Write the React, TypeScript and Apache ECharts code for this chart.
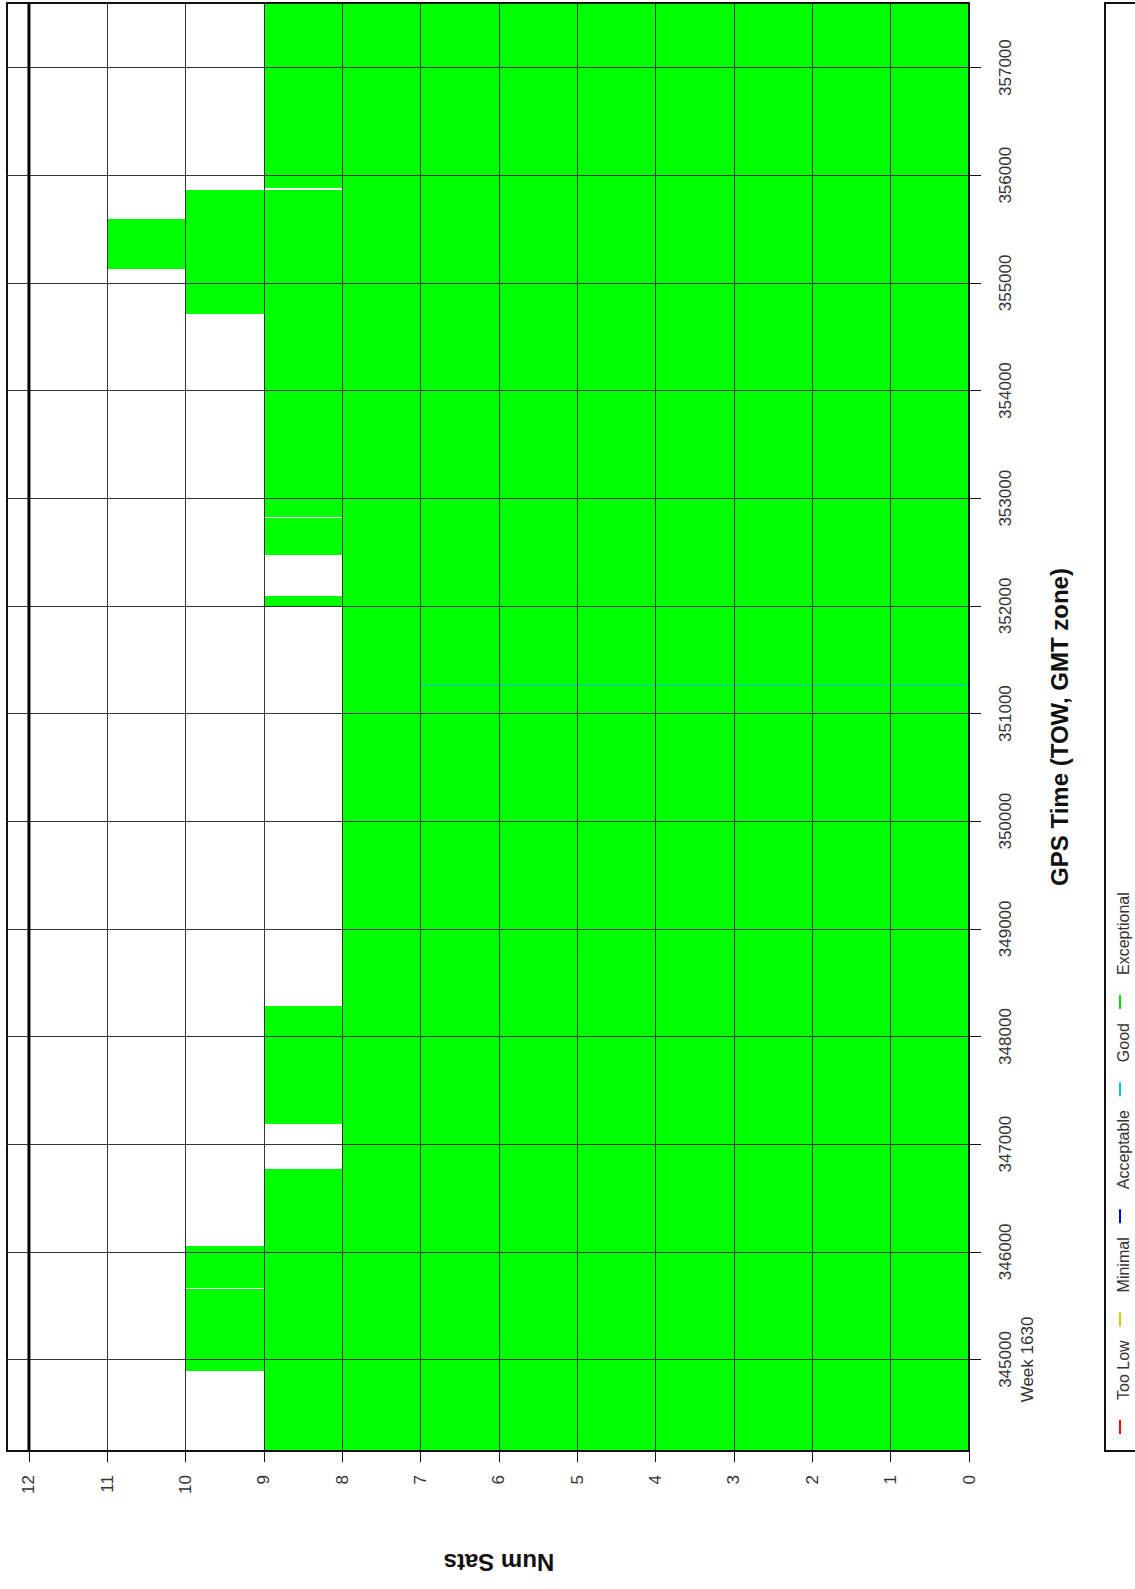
import React, { useEffect, useRef } from 'react';
import * as echarts from 'echarts';

// ---- data ----
const towTicks = [345000, 346000, 347000, 348000, 349000, 350000, 351000, 352000, 353000, 354000, 355000, 356000, 357000];
const weekStartTow = 345000;
const weekLabel = 'Week 1630';
const satTicks = [0, 1, 2, 3, 4, 5, 6, 7, 8, 9, 10, 11, 12];

// step boundaries (GPS TOW, s) and satellite count held in each interval
const stepTow = [344150, 344891, 345653, 345663, 346053, 346769, 347187, 348284, 351992, 352094, 352475, 352819, 352829, 354715, 355133, 355598, 355867, 355877, 357600];
const satCount = [9, 10, 9, 10, 9, 8, 9, 8, 9, 8, 9, 8, 9, 10, 11, 10, 8, 9];

// brief "Good" trace
const goodTow = [351267];
const goodSats = [7];

const maxSatsLine = 12;
const towMin = 344150;
const towMax = 357600;
const satMax = 12.28;

const legendNames = ['Too Low', 'Minimal', 'Acceptable', 'Good', 'Exceptional'];
const legendColors = ['#ff0000', '#e0c000', '#0000ff', '#00c8e8', '#00e000'];

const FONT = '"Liberation Sans", Arial, sans-serif';

function buildLegend() {
  const canvas = document.createElement('canvas');
  const ctx = canvas.getContext('2d');
  const fs = 16;
  if (ctx) ctx.font = `${fs}px "Liberation Sans", Arial, sans-serif`;
  const children: any[] = [];
  children.push({
    type: 'rect',
    shape: { x: 1105, y: 3, width: 60, height: 1448 },
    style: { fill: 'none', stroke: '#111', lineWidth: 2 },
  });
  let cursor = 1434;
  const xMark = 1120;
  const xText = 1123;
  legendNames.forEach((name, i) => {
    children.push({
      type: 'line',
      shape: { x1: xMark, y1: cursor, x2: xMark, y2: cursor - 14 },
      style: { stroke: legendColors[i], lineWidth: 2 },
    });
    cursor -= 14 + 20;
    const w = ctx ? ctx.measureText(name).width : name.length * 8;
    children.push({
      type: 'text',
      x: xText,
      y: cursor,
      rotation: Math.PI / 2,
      style: {
        text: name,
        font: `${fs}px ${FONT}`,
        fill: '#333',
        align: 'left',
        verticalAlign: 'middle',
      },
    });
    cursor -= w + 14;
  });
  return children;
}

export default function App() {
  const ref = useRef<HTMLDivElement>(null);

  useEffect(() => {
    if (!ref.current) return;
    const chart = echarts.init(ref.current, undefined, { renderer: 'svg' });

    const stepData = satCount.map((n, i) => [n, stepTow[i], stepTow[i + 1]]);

    const option: any = {
      animation: false,
      backgroundColor: '#ffffff',
      grid: {
        left: 7,
        right: 166,
        top: 3,
        bottom: 138,
        show: true,
        borderColor: '#111',
        borderWidth: 2,
        backgroundColor: 'transparent',
        z: 5,
      },
      xAxis: {
        type: 'value',
        inverse: true,
        min: 0,
        max: satMax,
        position: 'bottom',
        z: 5,
        axisLine: { show: true, lineStyle: { color: '#111', width: 2 } },
        axisTick: { show: true, length: 11, customValues: satTicks, lineStyle: { color: '#111' } },
        axisLabel: {
          customValues: satTicks,
          rotate: 90,
          margin: 24,
          fontSize: 17,
          color: '#333',
          fontFamily: FONT,
        },
        splitLine: { show: true, lineStyle: { color: '#333', width: 1 } },
      },
      yAxis: {
        type: 'value',
        min: towMin,
        max: towMax,
        position: 'right',
        z: 5,
        name: 'GPS Time (TOW, GMT zone)',
        nameLocation: 'middle',
        nameGap: 78,
        nameRotate: 90,
        nameTextStyle: { fontSize: 24, fontWeight: 'bold', color: '#111', fontFamily: FONT },
        axisLine: { show: true, lineStyle: { color: '#111', width: 2 } },
        axisTick: { show: true, length: 12, customValues: towTicks, lineStyle: { color: '#111' } },
        axisLabel: {
          customValues: towTicks,
          rotate: 90,
          margin: 25,
          fontSize: 17,
          lineHeight: 22,
          color: '#333',
          fontFamily: FONT,
          formatter: (v: number) => (v === weekStartTow ? `${v}\n${weekLabel}` : `${v}`),
        },
        splitLine: { show: true, lineStyle: { color: '#333', width: 1 } },
      },
      series: [
        {
          type: 'custom',
          name: 'Exceptional',
          z: 2,
          clip: true,
          encode: { x: 0, y: [1, 2] },
          data: stepData,
          renderItem: (params: any, api: any) => {
            const n = api.value(0);
            const t0 = api.value(1);
            const t1 = api.value(2);
            const p0 = api.coord([0, t0]);
            const p1 = api.coord([n, t1]);
            const x0 = Math.round(Math.min(p0[0], p1[0]));
            const x1 = Math.round(Math.max(p0[0], p1[0]));
            const y0 = Math.round(Math.min(p0[1], p1[1]));
            const y1 = Math.round(Math.max(p0[1], p1[1]));
            return {
              type: 'rect',
              shape: { x: x0, y: y0, width: x1 - x0, height: Math.max(1, y1 - y0) },
              style: { fill: '#00ff00' },
            };
          },
        },
        {
          type: 'line',
          name: 'Good',
          z: 3,
          silent: true,
          symbol: 'none',
          data: [[0, goodTow[0]], [goodSats[0], goodTow[0]]],
          lineStyle: { color: '#20b8e8', width: 1 },
        },
        {
          type: 'line',
          name: 'limit',
          z: 6,
          silent: true,
          symbol: 'none',
          data: [[maxSatsLine, towMin], [maxSatsLine, towMax]],
          lineStyle: { color: '#000', width: 3 },
        },
      ],
      graphic: [
        {
          type: 'text',
          x: 499,
          y: 1562,
          rotation: Math.PI,
          style: {
            text: 'Num Sats',
            font: `bold 24px ${FONT}`,
            fill: '#111',
            align: 'center',
            verticalAlign: 'middle',
          },
        },
        ...buildLegend(),
      ],
    };

    chart.setOption(option);
    return () => chart.dispose();
  }, []);

  return (
    <div
      ref={ref}
      style={{ position: 'absolute', left: 0, top: 0, width: 1135, height: 1589, background: '#fff' }}
    />
  );
}
